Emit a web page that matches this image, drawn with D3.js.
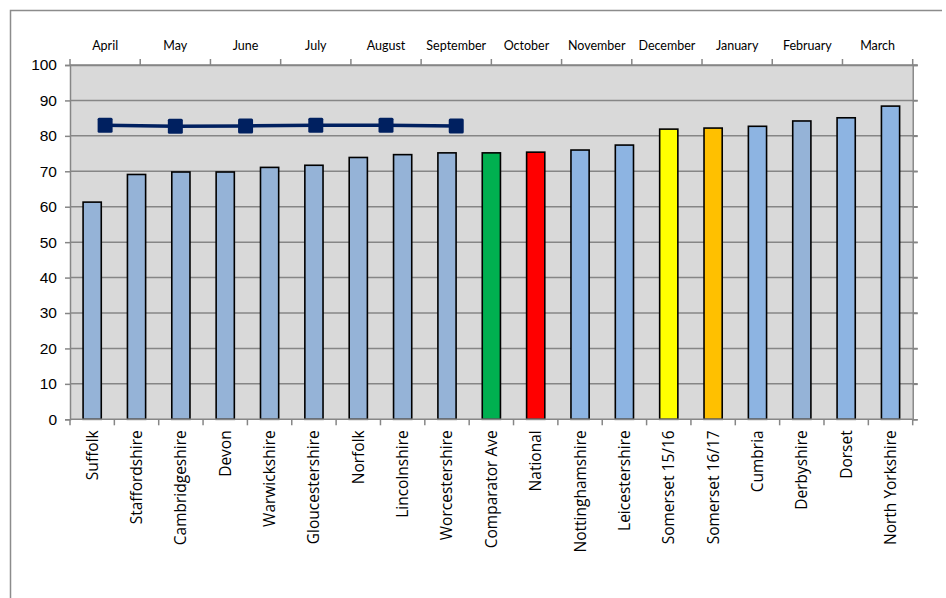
<!DOCTYPE html>
<html>
<head>
<meta charset="utf-8">
<script src="https://cdn.jsdelivr.net/npm/d3@7"></script>
<style>
  html, body { margin: 0; padding: 0; background: #fff; }
  svg { display: block; }
</style>
</head>
<body>
<svg id="chart" width="946" height="598"></svg>
<script>
const categories = ["Suffolk","Staffordshire","Cambridgeshire","Devon","Warwickshire","Gloucestershire","Norfolk","Lincolnshire","Worcestershire","Comparator Ave","National","Nottinghamshire","Leicestershire","Somerset 15/16","Somerset 16/17","Cumbria","Derbyshire","Dorset","North Yorkshire"];
const barValues = [61.3, 69.1, 69.8, 69.8, 71.1, 71.7, 73.9, 74.7, 75.2, 75.2, 75.4, 76.0, 77.4, 81.9, 82.2, 82.7, 84.2, 85.1, 88.4];
const barColors = ["#95B3D7","#95B3D7","#95B3D7","#95B3D7","#95B3D7","#95B3D7","#95B3D7","#95B3D7","#95B3D7","#00B050","#FF0000","#8DB4E2","#8DB4E2","#FFFF00","#FFC000","#8DB4E2","#95B3D7","#8DB4E2","#8DB4E2"];
const months = ["April","May","June","July","August","September","October","November","December","January","February","March"];
const monthValues = [83.0, 82.7, 82.8, 83.0, 83.0, 82.8];
const yTicks = [0,10,20,30,40,50,60,70,80,90,100];

const svg = d3.select("#chart");
const L = 70, R = 912.7, T = 65, B = 419.3;
const axisColor = "#868686";

// chart frame
svg.append("path").attr("d", `M10.5,598 L10.5,10.5 L942,10.5`)
  .attr("fill","none").attr("stroke","#8c8c8c").attr("stroke-width",1.5);

const x = d3.scaleBand().domain(categories).range([L, R]).paddingInner(0.59).paddingOuter(0.295);
const xm = d3.scaleBand().domain(months).range([L, R]);
const y = d3.scaleLinear().domain([0, 100]).range([B, T]);

// plot background
svg.append("rect").attr("x", L).attr("y", T).attr("width", R - L).attr("height", B - T).attr("fill", "#D9D9D9");

// gridlines
svg.append("g").selectAll("line").data(yTicks.filter(d => d > 0)).join("line")
  .attr("x1", L).attr("x2", R + 5).attr("y1", d => y(d)).attr("y2", d => y(d))
  .attr("stroke", axisColor).attr("stroke-width", 1.5);

// bars
svg.append("g").selectAll("rect").data(categories).join("rect")
  .attr("x", d => x(d)).attr("width", x.bandwidth())
  .attr("y", (d, i) => y(barValues[i])).attr("height", (d, i) => B - y(barValues[i]))
  .attr("fill", (d, i) => barColors[i]).attr("stroke", "#000").attr("stroke-width", 1.6);

// left axis
const yAxis = svg.append("g").attr("transform", `translate(${L},0)`)
  .call(d3.axisLeft(y).tickValues(yTicks).tickSize(5).tickPadding(8).tickFormat(d3.format("d")));
yAxis.selectAll("path, line").attr("stroke", axisColor).attr("stroke-width", 1.5);
yAxis.selectAll("text").attr("font-family", "Liberation Sans, Arial, sans-serif").attr("font-size", 15.5).attr("fill", "#000");

// right axis (no labels)
const yAxisR = svg.append("g").attr("transform", `translate(${R},0)`)
  .call(d3.axisRight(y).tickValues(yTicks).tickSize(5).tickFormat(""));
yAxisR.selectAll("path, line").attr("stroke", axisColor).attr("stroke-width", 1.5);

// bottom axis: ticks at category boundaries
const step = (R - L) / categories.length;
const boundaries = d3.range(categories.length + 1).map(i => L + i * step);
const bottom = svg.append("g");
bottom.append("line").attr("x1", L).attr("x2", R).attr("y1", B).attr("y2", B)
  .attr("stroke", axisColor).attr("stroke-width", 1.5);
bottom.selectAll("line.t").data(boundaries).join("line").attr("class","t")
  .attr("x1", d => d).attr("x2", d => d).attr("y1", B).attr("y2", B + 6)
  .attr("stroke", axisColor).attr("stroke-width", 1.5);
bottom.selectAll("text").data(categories).join("text")
  .attr("transform", d => `translate(${x(d) + x.bandwidth() / 2 + 5.5},${B + 11}) rotate(-90)`)
  .attr("text-anchor", "end")
  .attr("font-family", "Open Sans, sans-serif").attr("font-size", 15.5).attr("fill", "#000")
  .text(d => d);

// top axis: months
const topAxis = svg.append("g").attr("transform", `translate(0,${T})`)
  .call(d3.axisTop(xm).tickSize(0).tickPadding(15));
topAxis.select("path").attr("stroke", axisColor).attr("stroke-width", 1.5);
topAxis.selectAll("text").attr("font-family", "Lato, sans-serif").attr("font-size", 12.5).attr("fill", "#000");
const mBound = d3.range(months.length + 1).map(i => L + i * xm.step());
svg.append("g").selectAll("line").data(mBound).join("line")
  .attr("x1", d => d).attr("x2", d => d).attr("y1", T).attr("y2", T - 6)
  .attr("stroke", axisColor).attr("stroke-width", 1.5);

// line series
const mdata = monthValues.map((v, i) => ({ m: months[i], v }));
const line = d3.line().x(d => xm(d.m) + xm.bandwidth() / 2).y(d => y(d.v));
svg.append("path").datum(mdata).attr("d", line)
  .attr("fill", "none").attr("stroke", "#002060").attr("stroke-width", 3.5);
svg.append("g").selectAll("rect").data(mdata).join("rect")
  .attr("x", d => xm(d.m) + xm.bandwidth() / 2 - 7.5)
  .attr("y", d => y(d.v) - 7.5)
  .attr("width", 15).attr("height", 15).attr("rx", 1.5)
  .attr("fill", "#002060");
</script>
</body>
</html>
